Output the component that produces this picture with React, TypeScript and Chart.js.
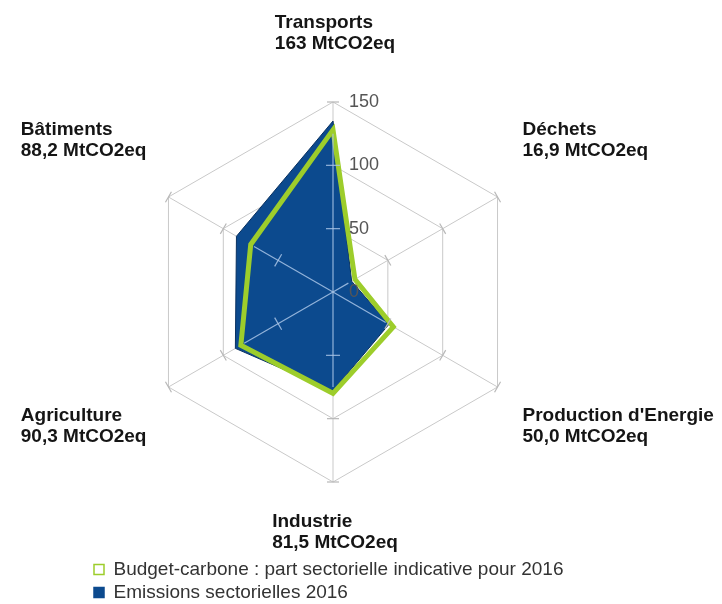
import React, { useEffect, useRef } from 'react';
import { Chart, registerables } from 'chart.js';

Chart.register(...registerables);

// ---- data ----
const sectors = ['Transports', 'Déchets', "Production d'Energie", 'Industrie', 'Agriculture', 'Bâtiments'];
const sectorTotals = ['163 MtCO2eq', '16,9 MtCO2eq', '50,0 MtCO2eq', '81,5 MtCO2eq', '90,3 MtCO2eq', '88,2 MtCO2eq'];
const budgetValues = [128, 20, 55, 80, 84, 75];
const emissionValues = [135, 17, 51, 78, 89, 88];
const tickValues = [0, 50, 100, 150];
const seriesNames = ['Budget-carbone : part sectorielle indicative pour 2016', 'Emissions sectorielles 2016'];

const BLUE = '#0c4a8e';
const GREEN = '#9dcd2b';
const GRID = '#c9c9c9';
const FONT = '"Liberation Sans", Arial, sans-serif';

const overlayPlugin = {
  id: 'radarOverlay',
  afterDatasetsDraw(chart: any) {
    const scale = chart.scales.r;
    const ctx = chart.ctx;
    const cx = scale.xCenter;
    const cy = scale.yCenter;
    ctx.save();
    // light axis lines over the filled area
    ctx.strokeStyle = 'rgba(170,198,232,0.85)';
    ctx.lineWidth = 1.2;
    sectors.forEach((_, i) => {
      const lim = Math.min(emissionValues[i], budgetValues[i]) - 3;
      const p = scale.getPointPositionForValue(i, lim);
      ctx.beginPath();
      ctx.moveTo(cx, cy);
      ctx.lineTo(p.x, p.y);
      ctx.stroke();
    });
    // small tick marks across each axis
    sectors.forEach((_, i) => {
      tickValues.slice(1).forEach((v) => {
        const p = scale.getPointPositionForValue(i, v);
        const inside = v < Math.min(emissionValues[i], budgetValues[i]) - 3;
        const half = inside ? 7 : 6;
        const nx = -Math.sin(p.angle) * half;
        const ny = Math.cos(p.angle) * half;
        ctx.strokeStyle = inside ? 'rgba(170,198,232,0.85)' : '#b8b8b8';
        ctx.lineWidth = 1.2;
        ctx.beginPath();
        ctx.moveTo(p.x - nx, p.y - ny);
        ctx.lineTo(p.x + nx, p.y + ny);
        ctx.stroke();
      });
    });
    ctx.restore();
  },
  afterDraw(chart: any) {
    const scale = chart.scales.r;
    const ctx = chart.ctx;
    const cx = scale.xCenter;
    const cy = scale.yCenter;
    ctx.save();
    // tick labels along the vertical axis
    ctx.font = '18px ' + FONT;
    ctx.fillStyle = '#555555';
    ctx.textAlign = 'left';
    ctx.textBaseline = 'middle';
    tickValues.forEach((v) => {
      const y = cy - scale.getDistanceFromCenterForValue(v);
      ctx.fillText(String(v), cx + 16, y);
    });
    // point labels (two lines each)
    const LINE = 21;
    ctx.font = 'bold 19px ' + FONT;
    ctx.fillStyle = '#151515';
    ctx.textBaseline = 'alphabetic';
    sectors.forEach((name, i) => {
      const lines = [name, sectorTotals[i]];
      const p = scale.getPointPosition(i, scale.drawingArea);
      const dx = p.x - cx;
      const dy = p.y - cy;
      const w = Math.max(...lines.map((l) => ctx.measureText(l).width));
      let left: number;
      let base: number;
      if (Math.abs(dx) < 2) {
        left = cx - w / 2 + 2;
        base = dy < 0 ? p.y - 53 - LINE : p.y + 45;
      } else {
        left = dx > 0 ? p.x + 25 : p.x - 22 - w;
        base = dy < 0 ? p.y - 41 - LINE : p.y + 33.5;
      }
      lines.forEach((l, k) => ctx.fillText(l, left, base + k * LINE));
    });
    ctx.restore();
  },
};

export default function App() {
  const canvasRef = useRef<HTMLCanvasElement | null>(null);

  useEffect(() => {
    if (!canvasRef.current) return;
    Chart.defaults.font.family = FONT;
    const chart = new Chart(canvasRef.current, {
      type: 'radar',
      data: {
        labels: sectors,
        datasets: [
          {
            label: seriesNames[0],
            data: budgetValues,
            borderColor: GREEN,
            backgroundColor: 'rgba(0,0,0,0)',
            borderWidth: 5,
            fill: false,
            pointRadius: 0,
            tension: 0,
            borderJoinStyle: 'miter',
          },
          {
            label: seriesNames[1],
            data: emissionValues,
            borderColor: '#08305f',
            backgroundColor: BLUE,
            borderWidth: 1,
            fill: true,
            pointRadius: 0,
            tension: 0,
          },
        ],
      },
      options: {
        responsive: false,
        animation: false,
        layout: { padding: { left: 90, right: 146, top: 102, bottom: -8 } },
        scales: {
          r: {
            min: 0,
            max: 150,
            ticks: { stepSize: 50, display: false },
            grid: { color: GRID, lineWidth: 1, circular: false },
            angleLines: { color: GRID, lineWidth: 1 },
            pointLabels: { display: false },
          },
        },
        plugins: {
          tooltip: { enabled: false },
          legend: {
            position: 'bottom',
            align: 'start',
            title: { display: true, text: '', padding: { top: 61, bottom: 0 }, font: { size: 10 } },
            labels: {
              boxWidth: 10,
              boxHeight: 10,
              padding: 4,
              color: '#333333',
              font: { size: 19, family: FONT },
              generateLabels(ch: any) {
                const items = (Chart.defaults.plugins.legend.labels as any).generateLabels(ch);
                items.forEach((it: any, idx: number) => {
                  it.lineWidth = 1.5;
                  if (idx === 0) {
                    it.fillStyle = '#ffffff';
                    it.strokeStyle = GREEN;
                  } else {
                    it.fillStyle = BLUE;
                    it.strokeStyle = BLUE;
                  }
                });
                return items;
              },
            },
          },
        },
      },
      plugins: [overlayPlugin],
    } as any);
    return () => chart.destroy();
  }, []);

  return (
    <div style={{ position: 'absolute', left: 0, top: 0, width: 722, height: 604, background: '#ffffff' }}>
      <canvas ref={canvasRef} width={722} height={604} style={{ display: 'block' }} />
    </div>
  );
}
